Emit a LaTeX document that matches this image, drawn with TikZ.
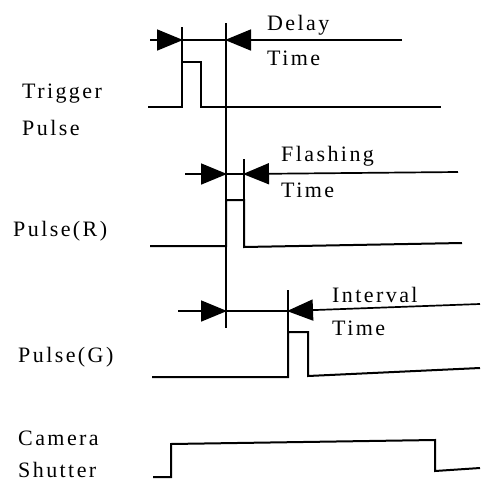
\documentclass[tikz,border=0pt]{standalone}
\usepackage{fontspec}
\setmainfont{Liberation Serif}[LetterSpace=11]
\usetikzlibrary{arrows.meta}
\begin{document}
\begin{tikzpicture}[x=1pt,y=-1pt,
  wave/.style={line width=2pt,line join=miter},
  guide/.style={line width=1.7pt},
  dim/.style={line width=1.7pt},
  tip/.style={-{Triangle[length=26pt,width=21pt]},line width=1.7pt,shorten >=-1pt},
  lbl/.style={anchor=base west,inner sep=0pt,align=left,font=\fontsize{22}{35}\selectfont}]
\useasboundingbox (0,0) rectangle (482,483);
% labels (base anchor = baseline of the last line)
\node[lbl] (ltrig) at (22,135) {Trigger\\[2pt]Pulse};
\node[lbl] (lr) at (13,236) {Pulse(R)};
\node[lbl] (lg) at (18,362) {Pulse(G)};
\node[lbl] (lcam) at (18,477) {Camera\\[-3pt]Shutter};
\node[lbl] (ldelay) at (267,65) {Delay\\Time};
\node[lbl] (lflash) at (281,197) {Flashing\\[1pt]Time};
\node[lbl] (linter) at (332,335) {Interval\\[-2pt]Time};
% guide verticals
\coordinate (v1t) at (182,27);  \coordinate (v1b) at (182,107);
\coordinate (v2t) at (226,23);  \coordinate (v2b) at (226,328);
\coordinate (v3t) at (244,159); \coordinate (v3b) at (244,247);
\coordinate (v4t) at (288,290); \coordinate (v4b) at (288,376);
\draw[guide] (v1t) -- (v1b);
\draw[guide] (v2t) -- (v2b);
\draw[guide] (v3t) -- (v3b);
\draw[guide] (v4t) -- (v4b);
% Delay time arrows
\coordinate (d0) at (150,40); \coordinate (d1) at (182,40);
\coordinate (d2) at (226,40); \coordinate (d3) at (402,40);
\draw[tip] (d0) -- (d1);
\draw[dim] (d1) -- (d2);
\draw[tip] (d3) -- (d2);
% Flashing time arrows
\coordinate (f0) at (185,174); \coordinate (f1) at (226,174);
\coordinate (f2) at (244,174); \coordinate (f3) at (458,172);
\draw[tip] (f0) -- (f1);
\draw[dim] (f1) -- (f2);
\draw[tip] (f3) -- (f2);
% Interval time arrows
\coordinate (i0) at (178,311); \coordinate (i1) at (226,311);
\coordinate (i2) at (288,311); \coordinate (i3) at (480,304);
\draw[tip] (i0) -- (i1);
\draw[dim] (i1) -- (i2);
\draw[tip] (i3) -- (i2);
% Trigger pulse
\coordinate (t0) at (148,107); \coordinate (t5) at (441,107);
\draw[wave] (t0) -- (v1b) -- (182,62) -- (201,62) -- (201,107) -- (t5);
% Pulse R
\coordinate (r0) at (150,246); \coordinate (r5) at (462,243);
\draw[wave] (r0) -- (226,246) -- (226,200) -- (244,200) -- (v3b) -- (r5);
% Pulse G
\coordinate (g0) at (152,377); \coordinate (g5) at (480,368);
\draw[wave] (g0) -- (288,377) -- (288,332) -- (308,332) -- (308,376) -- (g5);
% Camera shutter
\coordinate (s0) at (153,477); \coordinate (s5) at (480,468);
\draw[wave] (s0) -- (171,477) -- (171,444) -- (435,440) -- (435,471) -- (s5);
\end{tikzpicture}
\end{document}
